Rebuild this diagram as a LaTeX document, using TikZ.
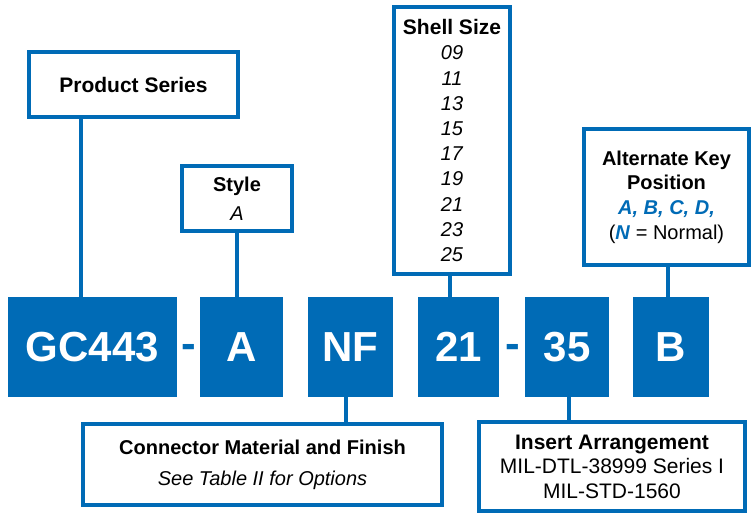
\documentclass[tikz,border=0pt]{standalone}
\usepackage{fontspec}
\setmainfont{Liberation Sans}
\definecolor{gblue}{RGB}{0,107,182}
\begin{document}
\begin{tikzpicture}[x=1pt,y=-1pt]
            \tikzstyle{every node}+=[inner sep=0pt, font=\fontsize{20}{25}\selectfont]
            \tikzstyle{infobox}=[draw=gblue, line width=4pt, fill=white, align=center]
            \tikzstyle{partbox}=[fill=gblue, text=white, minimum height=100pt, font=\fontsize{42}{42}\selectfont\bfseries]
            \tikzstyle{sep}=[text=gblue, font=\fontsize{44}{44}\selectfont\bfseries]
            \tikzstyle{link}=[draw=gblue, line width=3.5pt]
            \useasboundingbox (0,0) rectangle (751,519);
            % part number
            \node [partbox, minimum width=169pt] (gc) at (92.5,347) {GC443};
            \node [sep] (d1) at (189,351) {-};
            \node [partbox, minimum width=83pt] (a) at (241.5,347) {A};
            \node [partbox, minimum width=85pt] (nf) at (350.5,347) {NF};
            \node [partbox, minimum width=81pt] (n21) at (458.5,347) {21};
            \node [sep] (d2) at (513,351) {-};
            \node [partbox, minimum width=84pt] (n35) at (567,347) {35};
            \node [partbox, minimum width=76pt] (b) at (671,347) {B};
            % explanations
            \node [infobox, minimum width=209pt, minimum height=65pt, font=\fontsize{21}{25}\selectfont\bfseries] (series) at (133.5,84.5) {Product Series};
            \node [infobox, minimum width=110pt, minimum height=65pt, font=\fontsize{20}{29}\selectfont] (style) at (237,198.5) {\textbf{Style}\\\textit{A}};
            \node [infobox, minimum width=116pt, minimum height=267pt, font=\fontsize{20}{25.2}\selectfont] (shell) at (452,140.5)
                {{\fontsize{21}{25.2}\selectfont\textbf{Shell Size}}\\\textit{09}\\\textit{11}\\\textit{13}\\\textit{15}\\\textit{17}\\\textit{19}\\\textit{21}\\\textit{23}\\\textit{25}};
            \node [infobox, minimum width=165pt, minimum height=136pt, font=\fontsize{20}{24.7}\selectfont] (key) at (666.5,197)
                {\textbf{Alternate Key}\\\textbf{Position}\\\textcolor{gblue}{\textbf{\textit{A, B, C, D,}}}\\(\textcolor{gblue}{\textbf{\textit{N}}} = Normal)};
            \node [infobox, minimum width=359pt, minimum height=81pt, font=\fontsize{20}{31}\selectfont] (mat) at (262.5,464.5)
                {\textbf{Connector Material and Finish}\\\textit{See Table II for Options}};
            \node [infobox, minimum width=266pt, minimum height=89pt, font=\fontsize{21}{24.5}\selectfont] (ins) at (612,466.5)
                {\textbf{Insert Arrangement}\\MIL-DTL-38999 Series I\\MIL-STD-1560};
            % links
            \draw [link] ([xshift=-11.5pt]gc.north) -- ([xshift=-11.5pt]gc.north |- series.south);
            \draw [link] (style.south) -- (style.south |- a.north);
            \draw [link] ([xshift=-2pt]shell.south) -- ([xshift=-2pt]shell.south |- n21.north);
            \draw [link] ([xshift=-3pt]b.north) -- ([xshift=-3pt]b.north |- key.south);
            \draw [link] ([xshift=-4.5pt]nf.south) -- ([xshift=-4.5pt]nf.south |- mat.north);
            \draw [link] ([xshift=2pt]n35.south) -- ([xshift=2pt]n35.south |- ins.north);
\end{tikzpicture}
\end{document}
